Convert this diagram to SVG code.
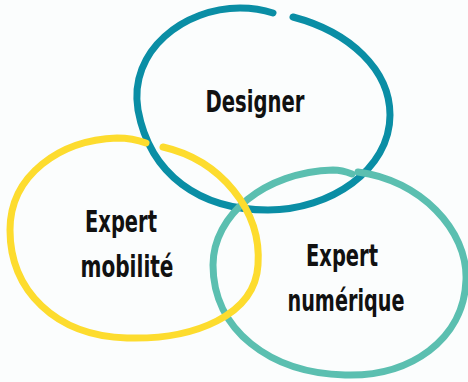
<svg xmlns="http://www.w3.org/2000/svg" width="468" height="382" viewBox="0 0 468 382">
<style>
.ring{fill:none;stroke-linecap:round;stroke-width:7}
.lbl{font-family:"DejaVu Sans Condensed","DejaVu Sans",sans-serif;font-weight:bold;font-size:30px;fill:#111;text-anchor:middle}
</style>
<rect width="468" height="382" fill="#fbfdfd"/>
<g id="connectors"></g>
<g id="designer">
<path class="ring" stroke="#0a8ea5" d="M293,17 C350,32 390,70 390,115 C390,170 330,210 268,210 C200,210 150,175 138,110 C128,50 185,8 240,8 C252,8 264,10 273,13"/>
<text class="lbl" x="255" y="112" textLength="99" lengthAdjust="spacingAndGlyphs">Designer</text>
</g>
<g id="numerique">
<path class="ring" stroke="#5bbfb0" stroke-width="6" d="M358,172 C420,180 468,230 466,280 C464,340 410,377 345,375 C270,373 213,330 213,265 C213,215 265,172 333,170 C340,170 347,172 352,174"/>
<text class="lbl" x="342" y="266" textLength="72" lengthAdjust="spacingAndGlyphs">Expert</text>
<text class="lbl" x="346" y="311" textLength="117" lengthAdjust="spacingAndGlyphs">numérique</text>
</g>
<g id="mobilite">
<path class="ring" stroke="#fddc2e" d="M163,147 C220,160 262,210 258,265 C255,315 195,340 127,338 C55,336 10,290 10,230 C10,175 60,140 117,138 C128,138 138,140 146,143"/>
<text class="lbl" x="121" y="232" textLength="72" lengthAdjust="spacingAndGlyphs">Expert</text>
<text class="lbl" x="127" y="277" textLength="93" lengthAdjust="spacingAndGlyphs">mobilité</text>
</g>
</svg>
